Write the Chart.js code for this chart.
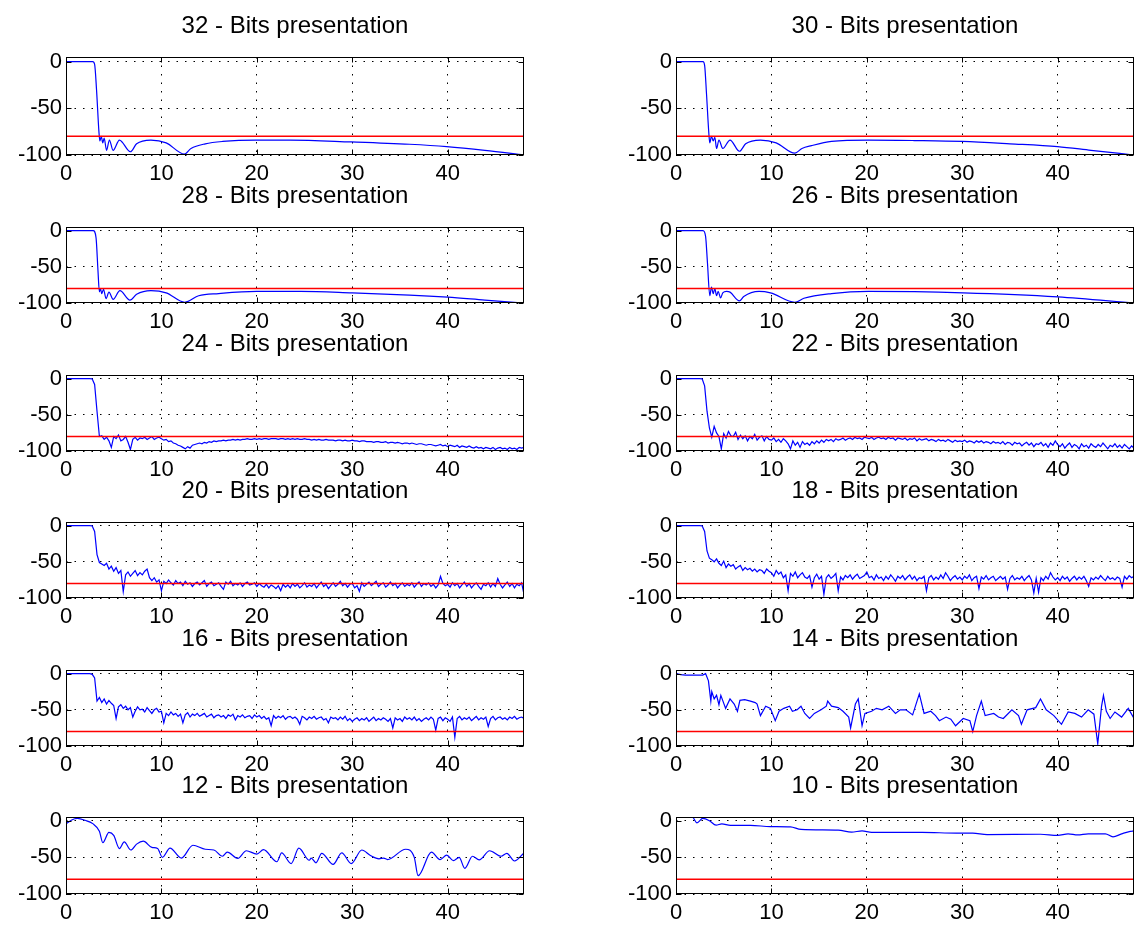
<!DOCTYPE html>
<html>
<head>
<meta charset="utf-8">
<script src="https://cdn.jsdelivr.net/npm/chart.js@4.4.1/dist/chart.umd.min.js"></script>
<style>
html, body { margin: 0; padding: 0; background: #fff; overflow: hidden; width: 1135px; height: 929px; }
canvas { position: absolute; }
</style>
</head>
<body>
<script>
// frequency axis (kHz) and level axis (dB)
var xTicks = [0, 10, 20, 30, 40];
var yTicks = [-100, -50, 0];
var limitF = [0, 48];
var limitDb = [-80, -80];

// smooth responses: own breakpoints
var f32 = [0, 2.8, 3.0, 3.2, 3.45, 3.55, 3.7, 3.85, 4.0, 4.25, 4.55, 4.93, 5.6, 6.75, 7.4, 8.9, 10.5, 12.4, 13.1, 14.6, 16.4, 19.9, 23.5, 29.9, 36, 39.9, 43.9, 48];
var db32 = [0, 0, -3, -30, -75, -85, -80, -87, -82, -95, -84, -95, -84, -96.5, -88, -84, -87, -99, -93, -88, -85.5, -84, -84, -86, -88.5, -91, -95, -100];

var f30 = [0, 2.83, 3.0, 3.2, 3.45, 3.54, 3.72, 3.9, 4.07, 4.25, 4.5, 4.9, 5.66, 6.65, 7.3, 8.85, 10.5, 12.46, 13.2, 14.2, 16.3, 20.2, 25, 30, 35, 40, 43.5, 48];
var db30 = [0, 0, -4, -35, -78, -87, -80, -85, -81, -93, -84, -93, -84, -96, -88, -84, -87, -98, -93, -90, -85.5, -84, -84.5, -85.5, -88, -91, -95, -100];

var f28 = [0, 2.86, 3.15, 3.35, 3.5, 3.61, 3.75, 3.93, 4.2, 4.5, 4.94, 5.65, 6.7, 7.4, 8.9, 10.5, 12.45, 13.9, 16, 20, 24.6, 30, 36, 40, 43.9, 48];
var db28 = [0, 0, -10, -55, -84.5, -80, -87, -81, -94, -85, -95, -83, -96, -88, -83, -86, -99, -90, -87, -84, -84, -86, -89, -92, -96, -100];

var f26 = [0, 2.83, 3.1, 3.3, 3.54, 3.72, 3.9, 4.07, 4.25, 4.42, 4.67, 4.9, 5.3, 5.66, 6.65, 7.1, 8.7, 9.9, 12.46, 13.4, 16.3, 20.2, 30.1, 40, 48];
var db26 = [0, 0, -8, -45, -90, -78, -87, -80, -90, -84, -93, -86, -84, -85, -97, -91, -84, -86, -99, -93.5, -87, -84, -86, -91.5, -100];

// noisy responses share a 0.25 kHz grid
var fGrid = [
  0, 0.25, 0.5, 0.75, 1, 1.25, 1.5, 1.75,
  2, 2.25, 2.5, 2.75, 3, 3.25, 3.5, 3.75,
  4, 4.25, 4.5, 4.75, 5, 5.25, 5.5, 5.75,
  6, 6.25, 6.5, 6.75, 7, 7.25, 7.5, 7.75,
  8, 8.25, 8.5, 8.75, 9, 9.25, 9.5, 9.75,
  10, 10.25, 10.5, 10.75, 11, 11.25, 11.5, 11.75,
  12, 12.25, 12.5, 12.75, 13, 13.25, 13.5, 13.75,
  14, 14.25, 14.5, 14.75, 15, 15.25, 15.5, 15.75,
  16, 16.25, 16.5, 16.75, 17, 17.25, 17.5, 17.75,
  18, 18.25, 18.5, 18.75, 19, 19.25, 19.5, 19.75,
  20, 20.25, 20.5, 20.75, 21, 21.25, 21.5, 21.75,
  22, 22.25, 22.5, 22.75, 23, 23.25, 23.5, 23.75,
  24, 24.25, 24.5, 24.75, 25, 25.25, 25.5, 25.75,
  26, 26.25, 26.5, 26.75, 27, 27.25, 27.5, 27.75,
  28, 28.25, 28.5, 28.75, 29, 29.25, 29.5, 29.75,
  30, 30.25, 30.5, 30.75, 31, 31.25, 31.5, 31.75,
  32, 32.25, 32.5, 32.75, 33, 33.25, 33.5, 33.75,
  34, 34.25, 34.5, 34.75, 35, 35.25, 35.5, 35.75,
  36, 36.25, 36.5, 36.75, 37, 37.25, 37.5, 37.75,
  38, 38.25, 38.5, 38.75, 39, 39.25, 39.5, 39.75,
  40, 40.25, 40.5, 40.75, 41, 41.25, 41.5, 41.75,
  42, 42.25, 42.5, 42.75, 43, 43.25, 43.5, 43.75,
  44, 44.25, 44.5, 44.75, 45, 45.25, 45.5, 45.75,
  46, 46.25, 46.5, 46.75, 47, 47.25, 47.5, 47.75,
  48];

var db24 = [
  0, 0, 0, 0, 0, 0, 0, 0,
  0, 0, 0, -0.5, -8, -45, -80, -79,
  -84, -81, -86, -95, -80, -83, -78, -86,
  -84, -80, -88, -98, -84, -81, -85, -82,
  -83, -81, -84, -82, -80, -84, -82, -81,
  -83, -85, -84, -87, -86, -89, -90, -92,
  -93, -95, -97, -94, -96, -92, -91, -90,
  -89, -90, -88, -89, -87, -88, -86, -87,
  -86, -86, -85, -86, -85, -85, -84, -85,
  -84, -85, -84, -84, -83, -84, -84, -83,
  -84, -83, -84, -83, -83, -84, -83, -83,
  -83, -84, -83, -83, -84, -83, -84, -83,
  -84, -83, -84, -84, -83, -84, -84, -85,
  -84, -85, -84, -85, -85, -84, -85, -85,
  -85, -86, -85, -85, -86, -85, -86, -86,
  -85, -86, -86, -87, -86, -86, -87, -87,
  -87, -88, -87, -87, -88, -88, -87, -89,
  -88, -88, -89, -88, -89, -90, -89, -89,
  -90, -89, -90, -91, -90, -90, -91, -92,
  -91, -91, -92, -93, -92, -91, -93, -92,
  -94, -92, -93, -94, -92, -95, -93, -94,
  -95, -93, -95, -96, -94, -96, -95, -97,
  -95, -96, -97, -95, -98, -96, -95, -97,
  -96, -98, -95, -97, -96, -98, -95, -96,
  -95];

var db22 = [
  0, 0, 0, 0, 0, 0, 0, 0,
  0, 0, 0, -0.5, -10, -45, -68, -81,
  -66, -75, -80, -97, -76, -82, -73, -79,
  -80, -74, -84, -78, -83, -79, -86, -80,
  -83, -77, -85, -81, -79, -86, -80, -84,
  -85, -82, -87, -84, -88, -83, -86, -90,
  -97, -86, -92, -88, -95, -87, -91, -89,
  -92, -87, -90, -86, -89, -85, -88, -84,
  -86, -84, -87, -83, -85, -84, -82, -85,
  -83, -82, -84, -81, -83, -82, -84, -81,
  -82, -83, -81, -84, -82, -81, -83, -82,
  -84, -81, -83, -82, -85, -82, -83, -84,
  -82, -85, -83, -84, -82, -86, -83, -85,
  -84, -83, -86, -84, -85, -87, -84, -86,
  -85, -87, -84, -86, -88, -85, -87, -86,
  -87, -85, -88, -86, -87, -89, -86, -88,
  -86, -89, -87, -88, -90, -87, -89, -88,
  -90, -87, -91, -88, -89, -92, -88, -90,
  -89, -93, -90, -88, -92, -89, -94, -90,
  -91, -88, -93, -90, -95, -89, -92, -86,
  -91, -94, -90, -96, -92, -89, -95, -91,
  -93, -97, -90, -94, -92, -96, -90, -93,
  -95, -91, -94, -89, -93, -97, -92, -94,
  -90, -95, -92, -96, -91, -94, -97, -93,
  -96];

var db20 = [
  0, 0, 0, 0, 0, 0, 0, 0,
  0, 0, 0, -0.5, -8, -40, -51, -53,
  -55, -52, -60, -56, -63, -58, -66, -62,
  -91, -68, -64, -70, -66, -62, -69, -65,
  -68, -63, -60, -72, -76, -72, -78, -75,
  -90, -77, -80, -75, -79, -82, -76, -80,
  -78, -83, -77, -81, -79, -84, -80, -78,
  -82, -79, -76, -84, -80, -78, -83, -81,
  -79, -84, -88, -78, -81, -77, -83, -80,
  -82, -79, -84, -80, -78, -82, -81, -79,
  -84, -80, -83, -85, -81, -86, -82, -84,
  -87, -83, -90, -81, -85, -82, -86, -80,
  -84, -81, -86, -83, -79, -85, -82, -84,
  -80, -86, -82, -78, -84, -81, -87, -83,
  -79, -84, -81, -77, -83, -80, -85, -81,
  -80, -86, -83, -91, -79, -84, -81, -78,
  -83, -80, -77, -84, -81, -79, -85, -82,
  -78, -83, -80, -86, -82, -79, -84, -81,
  -83, -79, -85, -81, -78, -84, -80, -82,
  -79, -84, -81, -86, -82, -70, -80, -83,
  -81, -85, -79, -83, -80, -86, -82, -78,
  -84, -80, -86, -82, -79, -84, -88, -81,
  -83, -79, -85, -80, -84, -73, -81, -86,
  -82, -78, -84, -80, -86, -81, -83, -79,
  -95];

var db18 = [
  0, 0, 0, 0, 0, 0, 0, 0,
  0, 0, 0, -0.5, -8, -35, -45, -47,
  -50, -46, -52, -55, -49, -58, -53, -56,
  -54, -60, -57, -55, -62, -58, -61, -59,
  -63, -60, -64, -61, -62, -66, -60, -63,
  -65, -70, -62, -67, -64, -72, -68, -90,
  -66, -70, -64, -72, -68, -65, -71, -73,
  -69, -85, -72, -67, -74, -70, -95, -72,
  -68, -73, -70, -66, -90, -71, -75, -69,
  -72, -68, -74, -70, -67, -73, -71, -69,
  -64, -72, -70, -75, -68, -73, -71, -76,
  -70, -74, -68, -72, -77, -70, -73, -69,
  -75, -71, -68, -74, -70, -76, -72, -73,
  -70, -90, -72, -69, -75, -71, -74, -68,
  -73, -65, -70, -76, -72, -69, -74, -71,
  -75, -70, -73, -68, -76, -72, -70, -87,
  -71, -74, -69, -75, -72, -70, -76, -73,
  -70, -74, -71, -88, -73, -69, -75, -72,
  -74, -70, -76, -72, -69, -75, -93, -73,
  -92, -72, -76, -70, -74, -65, -71, -75,
  -72, -76, -70, -74, -71, -77, -73, -70,
  -75, -71, -74, -70, -76, -84, -72, -75,
  -71, -74, -69, -73, -76, -70, -74, -72,
  -75, -71, -73, -85, -70, -74, -69, -72,
  -70];

var db16 = [
  0, 0, 0, 0, 0, 0, 0, 0,
  0, 0, 0, -1, -6, -38, -33, -40,
  -35, -42, -37, -41, -44, -62, -46, -43,
  -48, -45, -50, -47, -60, -52, -46, -50,
  -49, -53, -47, -51, -55, -50, -48, -53,
  -52, -68, -55, -58, -53, -57, -55, -59,
  -56, -68, -57, -54, -60, -56, -58, -55,
  -59, -57, -55, -60, -58, -56, -61, -58,
  -57, -60, -58, -62, -57, -59, -56, -64,
  -58, -60, -57, -61, -59, -58, -62, -57,
  -60, -58, -62, -59, -63, -61, -72, -58,
  -62, -59, -61, -58, -63, -60, -59, -62,
  -60, -63, -70, -59, -61, -64, -60, -62,
  -59, -63, -61, -60, -64, -62, -68, -60,
  -62, -61, -64, -60, -63, -59, -65, -62,
  -66, -63, -61, -65, -62, -64, -61, -66,
  -63, -60, -65, -62, -64, -61, -63, -66,
  -62, -75, -61, -64, -62, -66, -60, -63,
  -61, -64, -60, -65, -62, -66, -63, -61,
  -64, -60, -63, -78, -62, -60, -65, -61,
  -63, -66, -60, -88, -62, -59, -64, -61,
  -63, -60, -65, -62, -59, -64, -61, -63,
  -60, -73, -62, -59, -64, -61, -60, -63,
  -61, -64, -60, -62, -59, -63, -61, -60,
  -62];

var f14 = [
  0, 0.5, 1, 2, 2.8, 3.1, 3.4, 3.65, 3.75, 4.0,
  4.25, 4.5, 4.7, 5.2, 5.66, 6.1, 6.44, 6.7, 7.2, 7.8,
  8.3, 8.5, 8.85, 9.4, 9.9, 10.4, 10.8, 11.3, 11.9, 12.2,
  12.7, 13.1, 13.5, 14, 14.5, 15.2, 15.75, 15.9, 16.3, 17,
  17.5, 18.1, 18.3, 18.8, 19.1, 19.5, 19.8, 20.5, 21, 21.6,
  22.3, 23, 23.5, 24.1, 24.8, 25.5, 26, 26.7, 27.2, 27.6,
  28.3, 28.8, 29.3, 30.1, 30.8, 31.1, 31.5, 32, 32.4, 33.3,
  33.8, 34.3, 35.2, 35.9, 36.2, 36.8, 37.7, 38.2, 38.8, 39.6,
  40.4, 41.1, 41.8, 42.5, 43.2, 43.8, 44.2, 44.6, 44.8, 45.1,
  45.5, 46, 46.7, 47.4, 48];
var db14 = [
  0, -1.5, -2, -2, -2, 0, -10, -38, -25, -35,
  -30, -43, -30, -48, -35, -42, -52, -37, -36, -38,
  -40, -42, -58, -45, -48, -65, -52, -48, -45, -52,
  -50, -45, -55, -62, -55, -50, -45, -38, -45, -47,
  -52, -60, -75, -42, -35, -72, -55, -52, -48, -50,
  -45, -55, -50, -50, -57, -28, -55, -52, -58, -65,
  -60, -63, -72, -62, -65, -80, -58, -38, -58, -55,
  -60, -62, -50, -58, -70, -50, -47, -35, -50, -58,
  -70, -53, -55, -60, -50, -56, -97, -45, -30, -52,
  -62, -53, -60, -48, -62];

var f12 = [0, 0.6, 1.2, 2.0, 2.8, 3.5, 3.86, 4.5, 5.0, 5.6, 6.1, 6.8, 7.4, 8.1, 9.0, 9.6, 10.1, 10.9, 12.1, 13.3,
  14.6, 15.5, 16.4, 16.9, 18, 18.9, 20, 20.7, 22.1, 22.6, 23.6, 24.4, 25.5, 25.7, 26.2, 26.8, 28, 28.9, 29.9, 31,
  31.9, 32.8, 33.3, 33.7, 35.6, 36.5, 36.9, 38.3, 39.2, 39.9, 40.6, 41.2, 41.8, 42.6, 43.3, 44.4, 45.6, 46.2, 47, 48];
var db12 = [-4.5, 1, 3, 0.5, -4, -14.5, -30, -16, -20, -38, -29, -40, -32, -28, -36.5, -38, -50, -37.5, -51, -33.5,
  -39, -40, -48.5, -43, -51.5, -41, -45.5, -39.5, -56, -44, -58.5, -37.5, -54, -51, -57.5, -44.5, -59.5, -44, -58.5, -40,
  -47.5, -52, -51, -53, -39, -50, -75, -43, -53, -47, -54.5, -50, -65, -48.5, -53.5, -41, -48.5, -44.5, -55, -44];

var f10 = [0, 1.77, 2.2, 2.8, 3.5, 4.2, 4.8, 5.7, 7.8, 9.9, 12, 13.1, 17, 18.4, 19.5, 20.5, 25.8, 29.4, 31.1, 32.6,
  38.2, 40, 41.1, 42.1, 43.2, 45, 45.8, 46.7, 47.6, 48];
var db10 = [12, 4.5, -3, 3, 0, -6, -4.5, -6.5, -6.5, -8, -8.5, -12, -13, -15.5, -14, -16, -16, -17, -17, -19,
  -18.5, -20, -18, -19.5, -18, -18, -22, -18, -14.5, -14];

var panels = [
  { bits: 32, f: f32, db: db32, smooth: true },  { bits: 30, f: f30, db: db30, smooth: true },
  { bits: 28, f: f28, db: db28, smooth: true },  { bits: 26, f: f26, db: db26, smooth: true },
  { bits: 24, f: fGrid, db: db24, smooth: false }, { bits: 22, f: fGrid, db: db22, smooth: false },
  { bits: 20, f: fGrid, db: db20, smooth: false }, { bits: 18, f: fGrid, db: db18, smooth: false },
  { bits: 16, f: fGrid, db: db16, smooth: false }, { bits: 14, f: f14, db: db14, smooth: false },
  { bits: 12, f: f12, db: db12, smooth: true },  { bits: 10, f: f10, db: db10, smooth: true }
];

// layout of the 6 x 2 grid of axes
var colLeft = [66, 676];
var rowTop = [57, 227, 375, 522, 670, 817];
var rowBottom = [155, 303, 451, 598, 746, 894];
var plotW = 458, yAxisW = 66, xAxisH = 36, titleH = 48, padR = 12;

Chart.defaults.font.family = '"Liberation Sans", Arial, Helvetica, sans-serif';
Chart.defaults.color = '#000';

// MATLAB-like box with inward tick marks
var boxPlugin = {
  id: 'box',
  afterDatasetsDraw: function (chart) {
    var ctx = chart.ctx, a = chart.chartArea, sx = chart.scales.x, sy = chart.scales.y;
    var l = Math.round(a.left) + 0.5, t = Math.round(a.top) + 0.5;
    var r = Math.round(a.right) - 0.5, b = Math.round(a.bottom) - 0.5;
    ctx.save();
    ctx.strokeStyle = '#000';
    ctx.lineWidth = 1;
    ctx.strokeRect(l, t, r - l, b - t);
    ctx.beginPath();
    xTicks.forEach(function (v) {
      var px = Math.round(sx.getPixelForValue(v)) + 0.5;
      ctx.moveTo(px, b); ctx.lineTo(px, b - 5);
      ctx.moveTo(px, t); ctx.lineTo(px, t + 5);
    });
    yTicks.forEach(function (v) {
      var py = Math.round(sy.getPixelForValue(v)) + 0.5;
      ctx.moveTo(l, py); ctx.lineTo(l + 5, py);
      ctx.moveTo(r, py); ctx.lineTo(r - 5, py);
    });
    ctx.stroke();
    ctx.restore();
  }
};

panels.forEach(function (p, i) {
  var col = i % 2, row = Math.floor(i / 2);
  var plotH = rowBottom[row] - rowTop[row];
  var c = document.createElement('canvas');
  c.width = yAxisW + plotW + padR;
  c.height = titleH + plotH + xAxisH;
  c.style.left = (colLeft[col] - yAxisW) + 'px';
  c.style.top = (rowTop[row] - titleH) + 'px';
  document.body.appendChild(c);

  var pts = p.f.map(function (x, k) { return { x: x, y: p.db[k] }; });
  var lim = limitF.map(function (x, k) { return { x: x, y: limitDb[k] }; });

  new Chart(c.getContext('2d'), {
    type: 'line',
    data: {
      datasets: [
        { data: lim, borderColor: 'rgb(255,0,0)', borderWidth: 1.5, pointRadius: 0 },
        { data: pts, borderColor: 'rgb(0,0,255)', borderWidth: 1.2, pointRadius: 0,
          cubicInterpolationMode: p.smooth ? 'monotone' : 'default', tension: 0 }
      ]
    },
    options: {
      responsive: false,
      animation: false,
      layout: { padding: { left: 0, top: 0, bottom: 0, right: padR } },
      plugins: {
        legend: { display: false },
        tooltip: { enabled: false },
        title: {
          display: true,
          text: p.bits + ' - Bits presentation',
          fullSize: false,
          color: '#000',
          font: { size: 24, weight: 'normal' },
          padding: { top: 3, bottom: 16.2 }
        }
      },
      scales: {
        x: {
          type: 'linear', min: 0, max: 48,
          afterBuildTicks: function (s) { s.ticks = xTicks.map(function (v) { return { value: v }; }); },
          afterFit: function (s) { s.height = xAxisH; },
          ticks: { font: { size: 22 }, padding: 6, maxRotation: 0, color: '#000' },
          grid: { color: '#000', lineWidth: 1, drawTicks: false },
          border: { display: false, dash: [1.5, 7] }
        },
        y: {
          type: 'linear', min: -100, max: 5,
          afterBuildTicks: function (s) { s.ticks = yTicks.map(function (v) { return { value: v }; }); },
          afterFit: function (s) { s.width = yAxisW; },
          ticks: { font: { size: 22 }, padding: 4, color: '#000' },
          grid: { color: '#000', lineWidth: 1, drawTicks: false },
          border: { display: false, dash: [1.5, 7] }
        }
      }
    },
    plugins: [boxPlugin]
  });
});
</script>
</body>
</html>
